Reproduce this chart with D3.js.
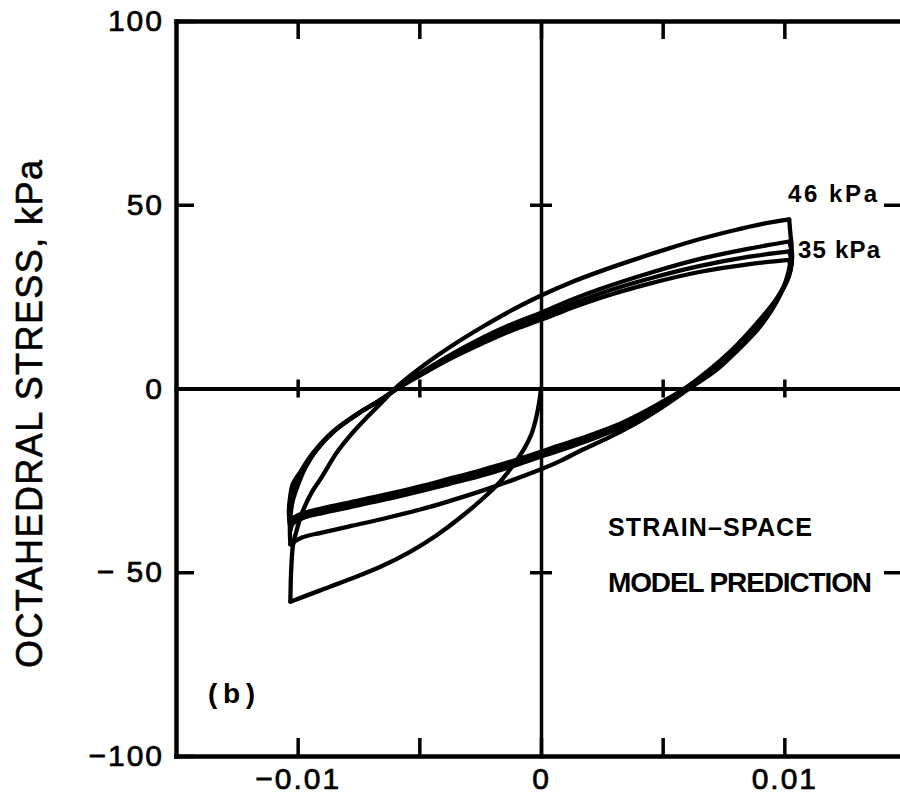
<!DOCTYPE html>
<html>
<head>
<meta charset="utf-8">
<script src="https://cdn.jsdelivr.net/npm/d3@7/dist/d3.min.js"></script>
<style>
  html, body { margin: 0; padding: 0; background: #fff; }
  svg { display: block; }
  text { font-family: "Liberation Sans", Arial, sans-serif; fill: #000; }
</style>
</head>
<body>
<svg id="chart" width="900" height="798"></svg>
<script>
// ---- data: octahedral strain vs octahedral stress (kPa) ----
const xTickValues = [-0.01, -0.005, 0, 0.005, 0.01];
const xTickLabels = ["\u22120.01", "", "0", "", "0.01"];
const yTickValues = [-100, -50, 0, 50, 100];
const yTickLabels = ["\u2212100", "\u2212 50", "0", "50", "100"];

// first loading from rest into compression
const virgin = [[0,0],[-0.00008,-4],[-0.0002,-8],[-0.0004,-12.5],[-0.0007,-16.5],[-0.0011,-20.5],
  [-0.0017,-25.5],[-0.0024,-30],[-0.0032,-34.5],[-0.0043,-40],[-0.0054,-44.5],[-0.0066,-48.5],
  [-0.0079,-52],[-0.0091,-55],[-0.0103,-58]];

// cycle 1
const up1 = [[-0.0103,-58],[-0.01027,-50],[-0.0102,-43],[-0.0101,-40],[-0.0098,-33.5],[-0.0094,-28],
  [-0.009,-24],[-0.0084,-17.5],[-0.0078,-12.5],[-0.0071,-7.5],[-0.0065,-3.5],[-0.006,0],[-0.0048,6.4],
  [-0.0036,11.9],[-0.0024,16.8],[-0.0012,21.3],[0,25.3],[0.0012,28.8],[0.0024,31.8],[0.0038,35],
  [0.0052,38],[0.0065,40.6],[0.0079,43],[0.0091,44.8],[0.0102,46]];
const down1 = [[0.0102,46],[0.01025,42],[0.0103,38.5],[0.01018,32],[0.0099,26.5],[0.0095,21.5],
  [0.0089,16],[0.0081,10.5],[0.0072,5],[0.0061,0],[0.005,-5],[0.0039,-9.5],[0.0028,-13.3],
  [0.0016,-17],[0.0008,-19.7],[0,-22],[-0.0012,-25],[-0.0025,-28],[-0.0038,-30.7],[-0.005,-33],
  [-0.0064,-35.3],[-0.0078,-37.4],[-0.009,-39.2],[-0.0098,-40.5],[-0.0103,-42.4]];

// cycle 2
const up2 = [[-0.0103,-42.4],[-0.01032,-38.5],[-0.0103,-35],[-0.0102,-30.5],[-0.01,-26.5],[-0.0097,-21.8],
  [-0.0092,-16.5],[-0.0084,-11],[-0.0074,-6.3],[-0.0065,-2.8],[-0.0059,0],[-0.0048,4.8],[-0.0037,9.2],
  [-0.0024,13.8],[-0.0012,17.5],[0,20.6],[0.0012,24],[0.0024,27],[0.0045,31.5],[0.0065,35.2],
  [0.0085,38],[0.0102,40]];
const down2 = [[0.0102,40],[0.01032,36.5],[0.01025,32],[0.0101,29],[0.0098,25.5],[0.0094,21.8],
  [0.0087,16],[0.008,11],[0.0071,5.5],[0.006,0],[0.0049,-4.8],[0.004,-8.2],[0.0032,-10.8],[0.002,-14],
  [0.0008,-16.8],[0,-18.5],[-0.0012,-21.2],[-0.0025,-23.8],[-0.0038,-26],[-0.005,-28],[-0.0064,-30.2],
  [-0.0078,-32.2],[-0.009,-33.9],[-0.0098,-35.3],[-0.0102,-36.8],[-0.0103,-38.5]];

// cycle 3
const up3 = [[-0.0103,-38.5],[-0.01034,-35],[-0.01028,-30.5],[-0.0101,-26],[-0.0098,-22.5],[-0.0093,-17.3],
  [-0.0085,-11.6],[-0.0075,-6.8],[-0.0066,-3.2],[-0.0059,0],[-0.0048,4.5],[-0.0037,8.7],[-0.0024,13],
  [-0.0012,16.6],[0,19.6],[0.0012,22.8],[0.0024,25.8],[0.0045,30],[0.0065,33.3],[0.0085,35.8],[0.0102,37.3]];
const down3 = [[0.0102,37.3],[0.0103,34.5],[0.0102,31],[0.01,28],[0.0097,24.6],[0.0093,21],[0.0086,15.5],
  [0.0079,10.6],[0.007,5.2],[0.006,0],[0.0049,-4.5],[0.004,-7.8],[0.0032,-10.3],[0.002,-13.4],
  [0.0008,-16.1],[0,-17.8],[-0.0012,-20.5],[-0.0025,-23],[-0.0038,-25.3],[-0.005,-27.3],[-0.0064,-29.5],
  [-0.0078,-31.5],[-0.009,-33.2],[-0.0098,-34.6],[-0.0102,-36],[-0.0103,-37.5]];

// cycle 4 (stabilised)
const up4 = [[-0.0103,-37.5],[-0.01036,-34],[-0.01032,-30],[-0.0102,-26],[-0.0099,-22.8],[-0.0094,-17.8],
  [-0.0086,-12],[-0.0076,-7.2],[-0.0067,-3.5],[-0.0059,0],[-0.0048,4.2],[-0.0037,8.2],[-0.0024,12.3],
  [-0.0012,15.8],[0,18.7],[0.0012,21.8],[0.0024,24.6],[0.0045,28.6],[0.0065,31.7],[0.0085,33.8],[0.0102,35]];
const down4 = [[0.0102,35],[0.01025,32.5],[0.0101,29.5],[0.0099,26.5],[0.0096,23.5],[0.0092,20.3],
  [0.0085,15],[0.0078,10.2],[0.0069,5],[0.0059,0],[0.0048,-4.3],[0.0039,-7.5],[0.0031,-10],[0.0019,-13],
  [0.0007,-15.6],[0,-17.2],[-0.0012,-19.8],[-0.0025,-22.3],[-0.0038,-24.6],[-0.005,-26.7],[-0.0064,-28.9],
  [-0.0078,-30.9],[-0.009,-32.6],[-0.0098,-34],[-0.0102,-35.3],[-0.0103,-36.6]];

const branches = [virgin, up1, down1, up2, down2, up3, down3, up4, down4];

// ---- layout ----
const svg = d3.select("#chart");
const x = d3.scaleLinear().domain([-0.015, 0.015]).range([176, 906]);
const y = d3.scaleLinear().domain([-100, 100]).range([756, 21]);

const xLabel = v => xTickLabels[xTickValues.indexOf(v)];
const yLabel = v => yTickLabels[yTickValues.indexOf(v)];

function styleAxis(g, w) {
  g.select(".domain").attr("stroke", "#000").attr("stroke-width", w).attr("stroke-linecap", "square");
  g.selectAll(".tick line").attr("stroke", "#000").attr("stroke-width", 3.5);
  g.selectAll(".tick text")
    .style("font-family", "'Liberation Sans', Arial, sans-serif")
    .style("font-size", "30px").style("letter-spacing", "2px")
    .attr("fill", "#000").attr("stroke", "#000").attr("stroke-width", 0.7);
}

// frame: bottom, top, left, right
svg.append("g").attr("transform", `translate(0,${y(-100)})`)
  .call(d3.axisBottom(x).tickValues(xTickValues).tickSizeInner(-18).tickSizeOuter(0)
    .tickPadding(12).tickFormat(xLabel))
  .call(g => styleAxis(g, 4.5));
svg.append("g").attr("transform", `translate(0,${y(100)})`)
  .call(d3.axisTop(x).tickValues(xTickValues).tickSizeInner(-18).tickSizeOuter(0).tickFormat(""))
  .call(g => styleAxis(g, 4.5));
svg.append("g").attr("transform", `translate(${x(-0.015)},0)`)
  .call(d3.axisLeft(y).tickValues(yTickValues).tickSizeInner(-18).tickSizeOuter(0)
    .tickPadding(12).tickFormat(yLabel))
  .call(g => styleAxis(g, 4.5));
svg.append("g").attr("transform", `translate(${x(0.015)},0)`)
  .call(d3.axisRight(y).tickValues([-50, 50]).tickSizeInner(-22).tickSizeOuter(0).tickFormat(""))
  .call(g => styleAxis(g, 4.5));

// centre cross: zero stress line and zero strain line with crossing ticks
const crossX = [-0.01, -0.005, 0.005, 0.01];
const crossY = [-50, 50];
svg.append("g").attr("transform", `translate(0,${y(0)})`)
  .call(d3.axisBottom(x).tickValues(crossX).tickSizeInner(9).tickSizeOuter(0).tickFormat(""))
  .call(g => styleAxis(g, 4));
svg.append("g").attr("transform", `translate(0,${y(0)})`)
  .call(d3.axisTop(x).tickValues(crossX).tickSizeInner(9).tickSizeOuter(0).tickFormat(""))
  .call(g => g.select(".domain").remove())
  .call(g => styleAxis(g, 4));
svg.append("g").attr("transform", `translate(${x(0)},0)`)
  .call(d3.axisLeft(y).tickValues(crossY).tickSizeInner(11).tickSizeOuter(0).tickFormat(""))
  .call(g => styleAxis(g, 3.5));
svg.append("g").attr("transform", `translate(${x(0)},0)`)
  .call(d3.axisRight(y).tickValues(crossY).tickSizeInner(11).tickSizeOuter(0).tickFormat(""))
  .call(g => g.select(".domain").remove())
  .call(g => styleAxis(g, 3.5));

// hysteresis loops
const line = d3.line()
  .x(d => x(d[0]))
  .y(d => y(d[1]))
  .curve(d3.curveCatmullRom.alpha(0.5));

svg.append("g")
  .selectAll("path")
  .data(branches)
  .join("path")
  .attr("d", line)
  .attr("fill", "none")
  .attr("stroke", "#000")
  .attr("stroke-width", 4.3)
  .attr("stroke-linejoin", "round")
  .attr("stroke-linecap", "round");

// y-axis title
svg.append("text")
  .attr("transform", "translate(42,414) rotate(-90)")
  .attr("text-anchor", "middle")
  .attr("textLength", 508)
  .attr("lengthAdjust", "spacing")
  .attr("stroke", "#000").attr("stroke-width", 0.6)
  .style("font-size", "36px")
  .text("OCTAHEDRAL STRESS, kPa");

// annotations
const notes = [
  { t: "46 kPa", x: 788, y: 202, s: 24, L: 89 },
  { t: "35 kPa", x: 798, y: 258, s: 24, L: 82 },
  { t: "STRAIN\u2013SPACE", x: 608, y: 536, s: 25, L: 204 },
  { t: "MODEL PREDICTION", x: 608, y: 592, s: 28, L: 264 },
  { t: "(b)", x: 208, y: 703, s: 28, L: 47 }
];
svg.append("g").selectAll("text").data(notes).join("text")
  .attr("x", d => d.x).attr("y", d => d.y)
  .attr("textLength", d => d.L).attr("lengthAdjust", "spacing")
  .style("font-size", d => d.s + "px")
  .style("font-weight", "bold")
  .text(d => d.t);
</script>
</body>
</html>
